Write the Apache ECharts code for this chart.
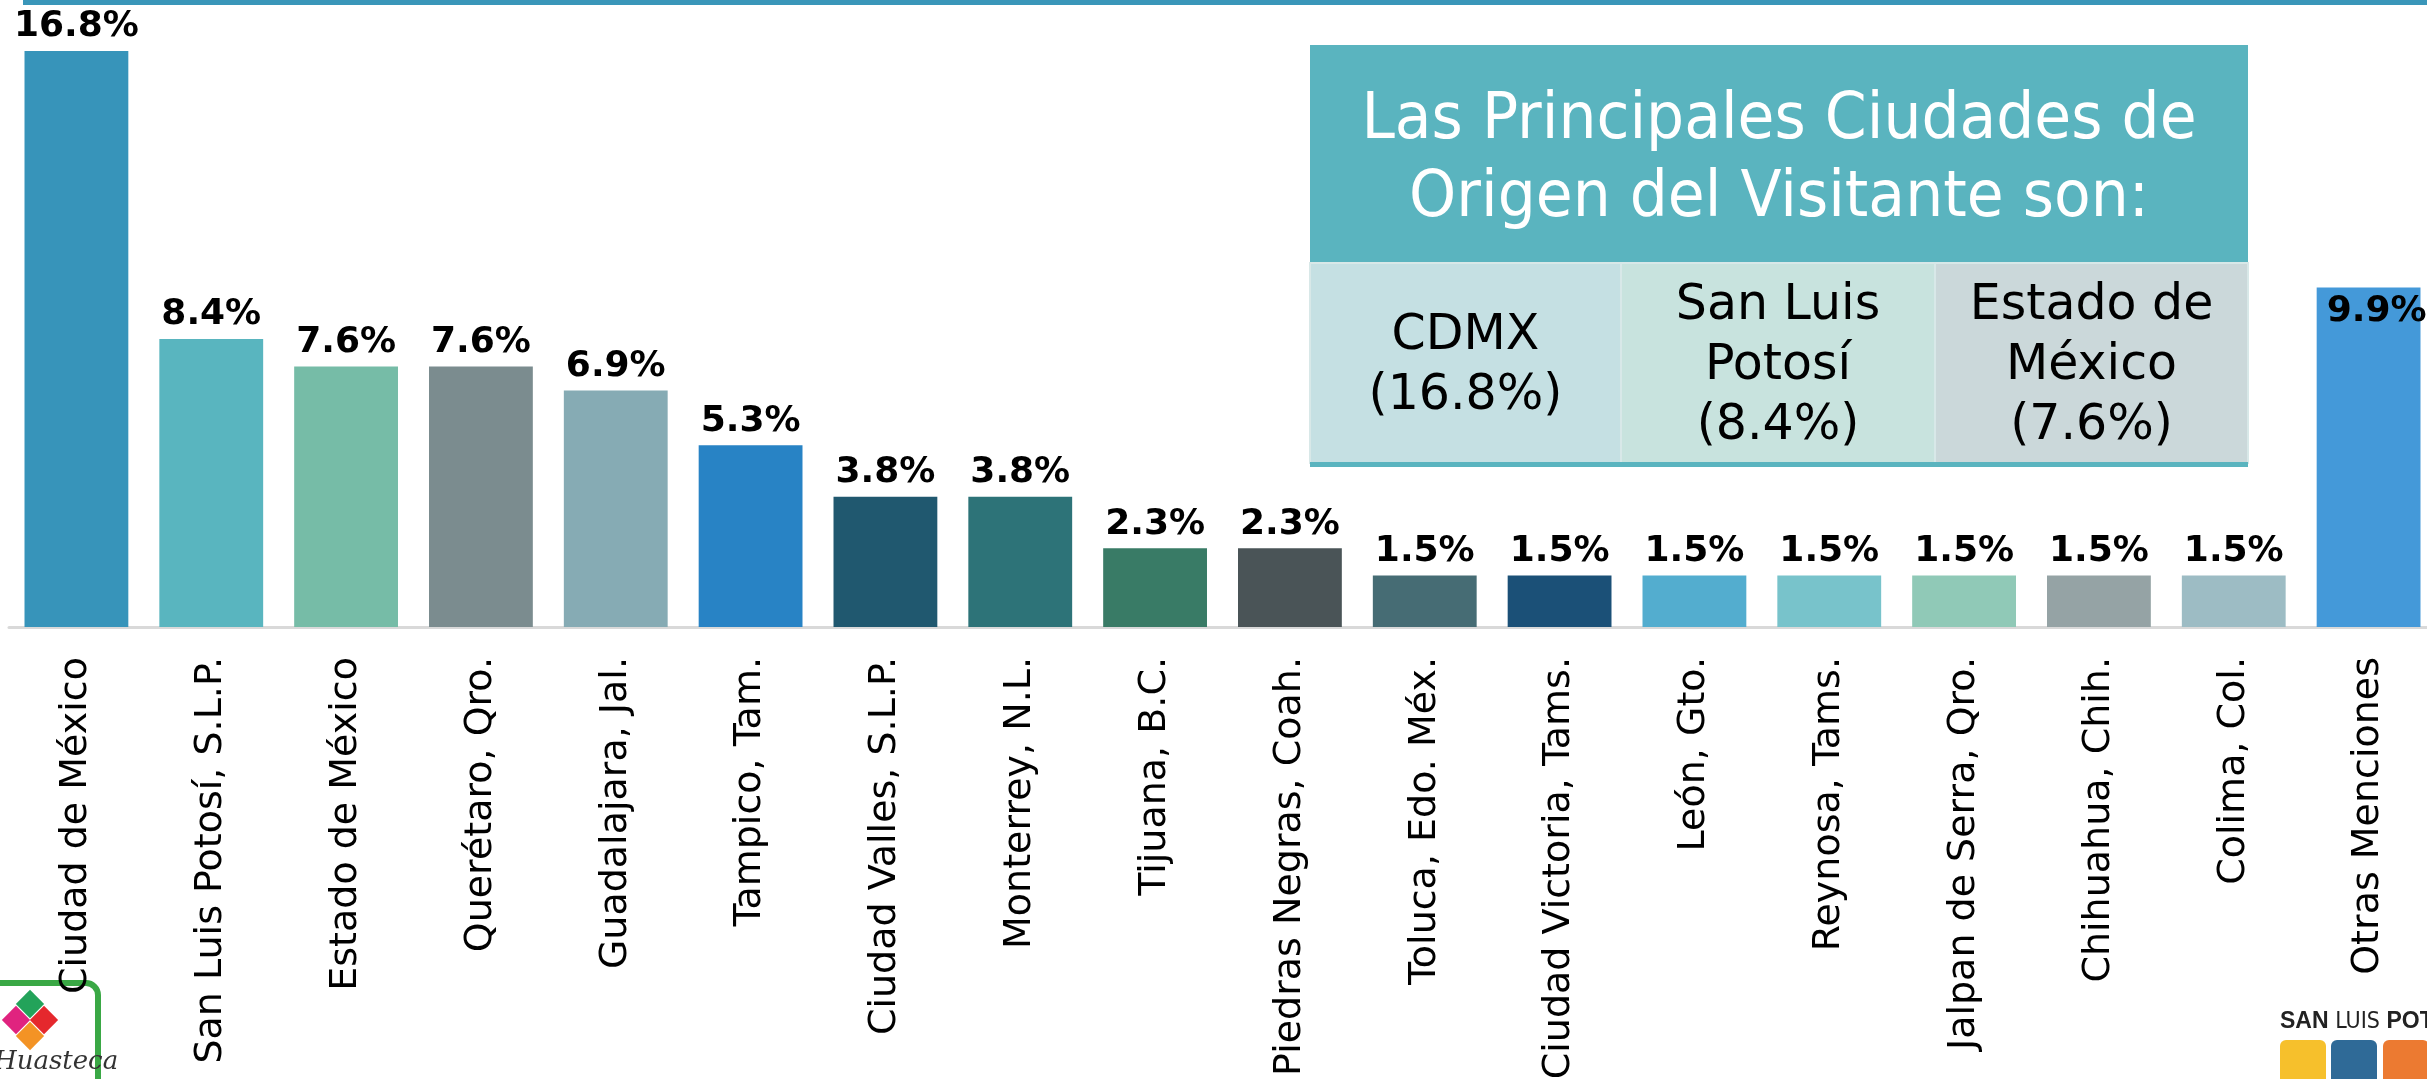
<!DOCTYPE html>
<html>
<head>
<meta charset="utf-8">
<script src="https://cdn.jsdelivr.net/npm/echarts@6/dist/echarts.min.js"></script>
<style>
  html, body { margin: 0; padding: 0; background: #fff; }
  #grafico { width: 2427px; height: 1079px; }
</style>
</head>
<body>
<div id="grafico"></div>
<script>
//Datos de las ciudades de origen
var ciudades = [
    'Ciudad de México', 'San Luis Potosí, S.L.P.', 'Estado de México', 'Querétaro, Qro.',
    'Guadalajara, Jal.', 'Tampico, Tam.', 'Ciudad Valles, S.L.P.', 'Monterrey, N.L.',
    'Tijuana, B.C.', 'Piedras Negras, Coah.', 'Toluca, Edo. Méx.', 'Ciudad Victoria, Tams.',
    'León, Gto.', 'Reynosa, Tams.', 'Jalpan de Serra, Qro.', 'Chihuahua, Chih.',
    'Colima, Col.', 'Otras Menciones'
];
var porcentajes = [16.8, 8.4, 7.6, 7.6, 6.9, 5.3, 3.8, 3.8, 2.3, 2.3, 1.5, 1.5, 1.5, 1.5, 1.5, 1.5, 1.5, 9.9];

//Colores de las barras
var colores = [
    '#3794ba', '#59b5bf', '#76bca7', '#7b8c8f', '#86abb4', '#2883c5',
    '#20586f', '#2d7378', '#397b66', '#4a5457', '#466c74', '#1b5077',
    '#53adcf', '#78c3cb', '#90c9b7', '#95a3a5', '#9dbcc4', '#4499d9'
];

//Recuadro con las principales ciudades
var tituloCuadro = 'Las Principales Ciudades de\nOrigen del Visitante son:';
var celdas = ['CDMX\n(16.8%)', 'San Luis\nPotosí\n(8.4%)', 'Estado de\nMéxico\n(7.6%)'];
var coloresCeldas = ['#c5e0e3', '#c8e3de', '#cbd8da'];

var dom = document.getElementById('grafico');
var myChart = echarts.init(dom, null, {
    renderer: 'canvas',
    useDirtyRect: false
});

var datos = porcentajes.map(function (v, i) {
    var item = { value: v, itemStyle: { color: colores[i] } };
    if (i === porcentajes.length - 1) {
        item.label = { position: 'insideTop', distance: 6, offset: [8, 0] };
    }
    return item;
});

//celdas de la tabla
var bordes = [1310, 1621, 1935, 2248];
var elementosCeldas = [];
celdas.forEach(function (t, i) {
    elementosCeldas.push({
        type: 'rect',
        shape: { x: bordes[i], y: 263, width: bordes[i + 1] - bordes[i], height: 200 },
        style: { fill: coloresCeldas[i], stroke: '#d8e8e8', lineWidth: 2 },
        z: 10
    });
    elementosCeldas.push({
        type: 'text',
        x: (bordes[i] + bordes[i + 1]) / 2,
        y: 366,
        style: {
            text: t,
            fill: '#000',
            fontSize: 49,
            fontFamily: 'DejaVu Sans',
            lineHeight: 60,
            align: 'center',
            verticalAlign: 'middle'
        },
        z: 11
    });
});

var option = {
    animation: false,
    grid: {
        left: 9,
        width: 2427,
        top: 51,
        bottom: 452,
        containLabel: false,
        outerBoundsMode: 'none'
    },
    xAxis: {
        type: 'category',
        data: ciudades,
        axisLine: { show: true, lineStyle: { color: '#d9d9d9', width: 3 } },
        axisTick: { show: false },
        axisLabel: {
            rotate: 90,
            interval: 0,
            margin: 30,
            color: '#000',
            fontSize: 38,
            fontFamily: 'DejaVu Sans'
        }
    },
    yAxis: {
        type: 'value',
        min: 0,
        max: 16.8,
        show: false,
        splitLine: { show: false }
    },
    series: [
        {
            name: 'Ciudades',
            type: 'bar',
            barCategoryGap: '23%',
            data: datos,
            label: {
                show: true,
                position: 'top',
                distance: 6,
                color: '#000',
                fontSize: 36,
                fontWeight: 'bold',
                fontFamily: 'DejaVu Sans',
                formatter: function (p) {
                    return p.value.toFixed(1) + '%';
                }
            }
        }
    ],
    graphic: [
        //linea superior
        {
            type: 'rect',
            shape: { x: 23, y: 0, width: 2404, height: 5 },
            style: { fill: '#3a96b9' }
        },
        //encabezado del cuadro
        {
            type: 'rect',
            shape: { x: 1310, y: 45, width: 938, height: 218 },
            style: { fill: '#5ab4bf' },
            z: 10
        },
        {
            type: 'text',
            x: 1779,
            y: 160,
            scaleY: 1.08,
            style: {
                text: tituloCuadro,
                fill: '#fff',
                fontSize: 60,
                fontFamily: 'DejaVu Sans',
                lineHeight: 72,
                align: 'center',
                verticalAlign: 'middle'
            },
            z: 11
        },
        {
            type: 'rect',
            shape: { x: 1310, y: 462, width: 938, height: 5 },
            style: { fill: '#5ab4bf' },
            z: 12
        }
    ].concat(elementosCeldas).concat([
        //logo Huasteca (debajo de las etiquetas)
        {
            type: 'rect',
            shape: { x: -20, y: 983, width: 118, height: 130, r: 12 },
            style: { fill: '#fff', stroke: '#3aa845', lineWidth: 6 },
            z: -10
        },
        { type: 'rect', shape: { x: -10, y: -10, width: 20, height: 20 }, x: 30, y: 1004, rotation: Math.PI / 4, style: { fill: '#23a35a' }, z: -9 },
        { type: 'rect', shape: { x: -10, y: -10, width: 20, height: 20 }, x: 16, y: 1020, rotation: Math.PI / 4, style: { fill: '#e0237f' }, z: -9 },
        { type: 'rect', shape: { x: -10, y: -10, width: 20, height: 20 }, x: 44, y: 1020, rotation: Math.PI / 4, style: { fill: '#e5282d' }, z: -9 },
        { type: 'rect', shape: { x: -10, y: -10, width: 20, height: 20 }, x: 30, y: 1036, rotation: Math.PI / 4, style: { fill: '#f39325' }, z: -9 },
        {
            type: 'text',
            x: -6,
            y: 1062,
            style: {
                text: 'Huasteca',
                fill: '#333',
                fontSize: 26,
                fontStyle: 'italic',
                fontFamily: 'DejaVu Serif',
                verticalAlign: 'middle'
            },
            z: -9
        },
        //logo San Luis Potosi
        {
            type: 'text',
            x: 2280,
            y: 1022,
            style: {
                text: '{b|SAN} LUIS {b|POTOSÍ}',
                fill: '#222',
                fontSize: 23,
                fontFamily: 'DejaVu Sans Condensed, DejaVu Sans',
                verticalAlign: 'middle',
                rich: { b: { fontWeight: 'bold', fontSize: 23, fill: '#222' } }
            },
            z: 21
        },
        { type: 'rect', shape: { x: 2280, y: 1040, width: 46, height: 50, r: 6 }, style: { fill: '#f6c02c' }, z: 21 },
        { type: 'rect', shape: { x: 2331, y: 1040, width: 46, height: 50, r: 6 }, style: { fill: '#2f6a97' }, z: 21 },
        { type: 'rect', shape: { x: 2383, y: 1040, width: 46, height: 50, r: 6 }, style: { fill: '#ec7a31' }, z: 21 }
    ])
};

if (option && typeof option === 'object') {
    myChart.setOption(option);
}

window.addEventListener('resize', myChart.resize);
</script>
</body>
</html>
